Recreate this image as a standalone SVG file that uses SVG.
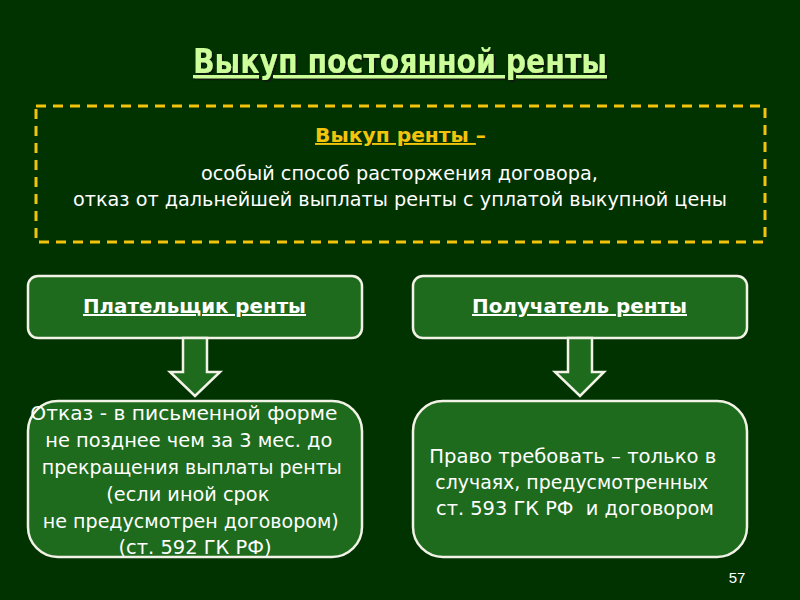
<svg xmlns="http://www.w3.org/2000/svg" width="800" height="600" viewBox="0 0 800 600">
<defs>
<filter id="shadow" x="-5%" y="-20%" width="110%" height="150%">
<feDropShadow dx="2" dy="2" stdDeviation="0.6" flood-color="#0a140a" flood-opacity="0.9"/>
</filter>
</defs>
<style>
.t{font-family:"DejaVu Sans","Verdana",sans-serif;fill:#ffffff;text-anchor:middle}
.box{fill:#1e6b1e;stroke:#f2f2e6;stroke-width:2.5}
.arrow{fill:#1e6b1e;stroke:#f2f2e6;stroke-width:2.5;stroke-linejoin:miter}
</style>
<rect x="0" y="0" width="800" height="600" fill="#003300"/>
<g id="title">
<text x="400" y="73" class="t" font-family="DejaVu Sans Condensed,DejaVu Sans,sans-serif" font-weight="bold" font-size="33" style="fill:#ccff99" filter="url(#shadow)" text-decoration="underline" textLength="414" lengthAdjust="spacingAndGlyphs">Выкуп постоянной ренты</text>
</g>
<g id="definition">
<rect x="36" y="106" width="729" height="136" fill="none" stroke="#f2c40c" stroke-width="3" stroke-dasharray="10 7"/>
<text x="400.5" y="142" class="t" font-size="19" font-weight="bold" style="fill:#f2c40c" textLength="171" lengthAdjust="spacingAndGlyphs"><tspan text-decoration="underline">Выкуп ренты </tspan>–</text>
<text x="399.5" y="180" class="t" font-size="19" textLength="397" lengthAdjust="spacingAndGlyphs">особый способ расторжения договора,</text>
<text x="400" y="206" class="t" font-size="19" textLength="654" lengthAdjust="spacingAndGlyphs">отказ от дальнейшей выплаты ренты с уплатой выкупной цены</text>
</g>
<g id="payer">
<rect x="28" y="276" width="334" height="62" rx="10" class="box"/>
<text x="194.5" y="313" class="t" font-size="20" font-weight="bold" text-decoration="underline" textLength="223" lengthAdjust="spacingAndGlyphs">Плательщик ренты</text>
</g>
<g id="recipient">
<rect x="413" y="276" width="334" height="62" rx="10" class="box"/>
<text x="579.5" y="313" class="t" font-size="20" font-weight="bold" text-decoration="underline" textLength="215" lengthAdjust="spacingAndGlyphs">Получатель ренты</text>
</g>
<g id="connectors">
<polygon class="arrow" points="183,338 207,338 207,372 220,372 195,396 170,372 183,372"/>
<polygon class="arrow" points="568,338 592,338 592,372 604,372 580,396 555,372 568,372"/>
</g>
<g id="payer-rule">
<rect x="28" y="401" width="334" height="156" rx="30" class="box"/>
<text class="t" font-size="20">
<tspan x="187" y="420" textLength="307" lengthAdjust="spacingAndGlyphs">Отказ - в письменной форме</tspan>
<tspan x="192" y="447" textLength="287" lengthAdjust="spacingAndGlyphs">не позднее чем за 3 мес. до</tspan>
<tspan x="195" y="474" textLength="300" lengthAdjust="spacingAndGlyphs">прекращения выплаты ренты</tspan>
<tspan x="191" y="501" textLength="163" lengthAdjust="spacingAndGlyphs">(если иной срок</tspan>
<tspan x="194" y="528" textLength="296" lengthAdjust="spacingAndGlyphs">не предусмотрен договором)</tspan>
<tspan x="195" y="554" textLength="153" lengthAdjust="spacingAndGlyphs">(ст. 592 ГК РФ)</tspan>
</text>
</g>
<g id="recipient-rule">
<rect x="413" y="401" width="334" height="156" rx="30" class="box"/>
<text class="t" font-size="20">
<tspan x="576" y="463" textLength="287" lengthAdjust="spacingAndGlyphs">Право требовать – только в</tspan>
<tspan x="575" y="489" textLength="273" lengthAdjust="spacingAndGlyphs">случаях, предусмотренных</tspan>
<tspan x="575" y="515" textLength="278" lengthAdjust="spacingAndGlyphs">ст. 593 ГК РФ&#160; и договором</tspan>
</text>
</g>
<text x="737" y="583" font-family="Liberation Sans,Arial,sans-serif" font-size="15" fill="#ffffff" text-anchor="middle">57</text>
</svg>
